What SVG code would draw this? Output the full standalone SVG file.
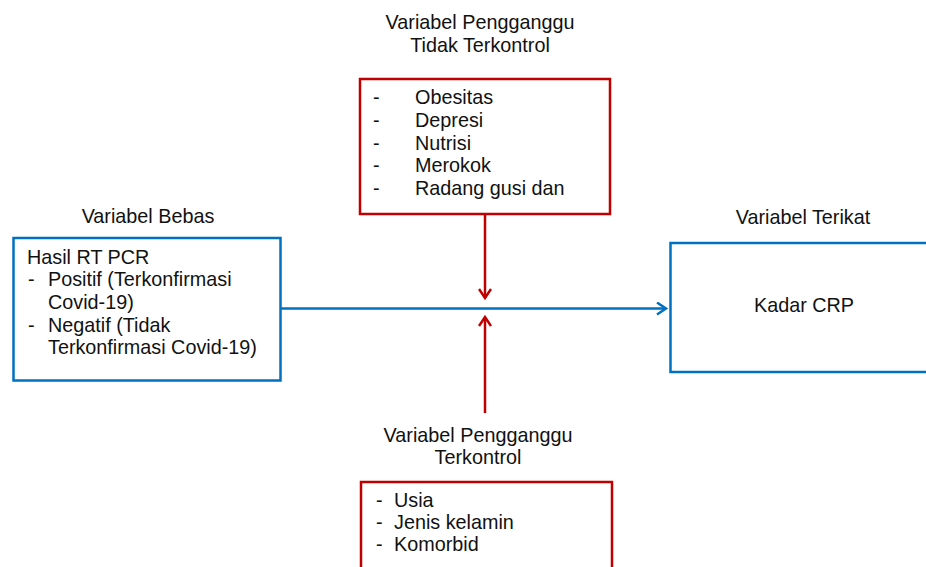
<svg xmlns="http://www.w3.org/2000/svg" width="926" height="567" viewBox="0 0 926 567">
<style>
text{font-family:"Liberation Sans",Arial,sans-serif;font-size:19.8px;fill:#111}
.red{fill:#fff;stroke:#C00000;stroke-width:2.5}
.blue{fill:#fff;stroke:#0070C0;stroke-width:2.5}
.c{text-anchor:middle}
</style>
<defs>
<marker id="ar" markerWidth="14" markerHeight="14" refX="11" refY="7" orient="auto" markerUnits="userSpaceOnUse">
<path d="M2,1 L11,7 L2,13" fill="none" stroke="#C00000" stroke-width="2.5"/>
</marker>
<marker id="ab" markerWidth="14" markerHeight="14" refX="11" refY="7" orient="auto" markerUnits="userSpaceOnUse">
<path d="M2,1 L11,7 L2,13" fill="none" stroke="#0070C0" stroke-width="2.5"/>
</marker>
</defs>
<rect width="926" height="567" fill="#fff"/>
<g id="connectors">
<line x1="281" y1="308.5" x2="666" y2="308.5" stroke="#0070C0" stroke-width="2.5" marker-end="url(#ab)"/>
<line x1="485" y1="215" x2="485" y2="298" stroke="#C00000" stroke-width="2.5" marker-end="url(#ar)"/>
<line x1="485" y1="413" x2="485" y2="317" stroke="#C00000" stroke-width="2.5" marker-end="url(#ar)"/>
</g>
<g id="uncontrolled">
<text class="c" x="480" y="29">Variabel Pengganggu</text>
<text class="c" x="480" y="52">Tidak Terkontrol</text>
<rect class="red" x="360" y="79" width="250" height="135"/>
<text x="373" y="104">-</text><text x="415" y="104">Obesitas</text>
<text x="373" y="127">-</text><text x="415" y="127">Depresi</text>
<text x="373" y="150">-</text><text x="415" y="150">Nutrisi</text>
<text x="373" y="172">-</text><text x="415" y="172">Merokok</text>
<text x="373" y="195">-</text><text x="415" y="195">Radang gusi dan</text>
</g>
<g id="independent">
<text class="c" x="148" y="223">Variabel Bebas</text>
<rect class="blue" x="13.5" y="238" width="267" height="142.5"/>
<text x="27" y="264">Hasil RT PCR</text>
<text x="28" y="286">-</text><text x="48" y="286">Positif (Terkonfirmasi</text>
<text x="48" y="309">Covid-19)</text>
<text x="28" y="332">-</text><text x="48" y="332">Negatif (Tidak</text>
<text x="48" y="354">Terkonfirmasi Covid-19)</text>
</g>
<g id="dependent">
<text class="c" x="803" y="224">Variabel Terikat</text>
<rect class="blue" x="670.5" y="243" width="262" height="129"/>
<text class="c" x="804" y="312">Kadar CRP</text>
</g>
<g id="controlled">
<text class="c" x="478" y="442">Variabel Pengganggu</text>
<text class="c" x="478" y="464">Terkontrol</text>
<rect class="red" x="361" y="482" width="251" height="100"/>
<text x="376" y="507">-</text><text x="394" y="507">Usia</text>
<text x="376" y="529">-</text><text x="394" y="529">Jenis kelamin</text>
<text x="376" y="551">-</text><text x="394" y="551">Komorbid</text>
</g>
</svg>
